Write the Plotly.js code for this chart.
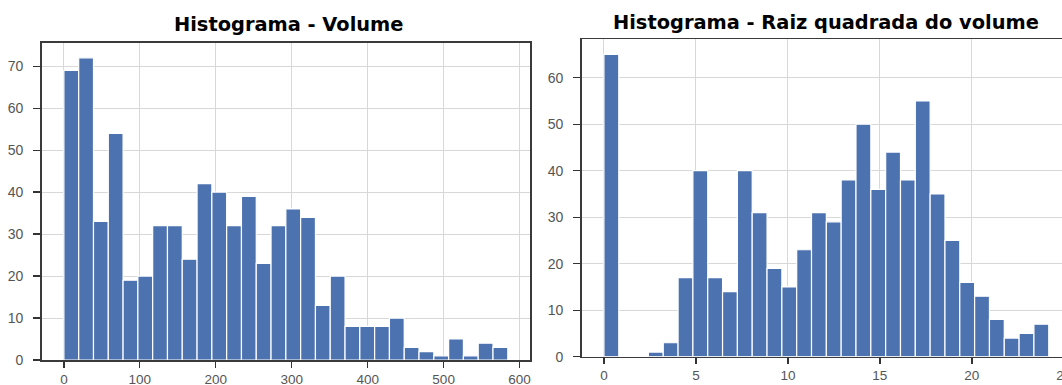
<!DOCTYPE html>
<html>
<head>
<meta charset="utf-8">
<script src="https://cdn.plot.ly/plotly-3.0.1.min.js"></script>
<style>
  html, body { margin: 0; padding: 0; background: #ffffff; overflow: hidden; }
  #chart { width: 1100px; height: 385px; }
</style>
</head>
<body>
<div id="chart"></div>
<script>
// Histogram of volume: 30 equal-width bins from 0 to the maximum volume
const volumeMin = 0;
const volumeMax = 584.5;
const volumeCounts = [69, 72, 33, 54, 19, 20, 32, 32, 24, 42, 40, 32, 39, 23, 32,
                      36, 34, 13, 20, 8, 8, 8, 10, 3, 2, 1, 5, 1, 4, 3];
const volumeTicks = [0, 100, 200, 300, 400, 500, 600];

// Histogram of the square root of volume: 30 equal-width bins
const sqrtMin = 0;
const sqrtMax = 24.18;
const sqrtCounts = [65, 0, 0, 1, 3, 17, 40, 17, 14, 40, 31, 19, 15, 23, 31,
                    29, 38, 50, 36, 44, 38, 55, 35, 25, 16, 13, 8, 4, 5, 7];
const sqrtTicks = [0, 5, 10, 15, 20, 25];

const countTicks = [0, 10, 20, 30, 40, 50, 60, 70];

const titles = ['Histograma - Volume', 'Histograma - Raiz quadrada do volume'];

const W = 1100, H = 385;
const barColor = '#4C72B0';
const yTickFont = { family: 'Liberation Sans, Arial, sans-serif', size: 14, color: '#555555' };
const xTickFont = { family: 'Liberation Sans, Arial, sans-serif', size: 13.5, color: '#555555' };
const titleFont = { family: 'DejaVu Sans, sans-serif', size: 19.4, color: '#000000', weight: 700 };

function binWidth(lo, hi, counts) { return (hi - lo) / counts.length; }
const volW = binWidth(volumeMin, volumeMax, volumeCounts);
const sqrtW = binWidth(sqrtMin, sqrtMax, sqrtCounts);

function histBars(counts, lo, w, xa, ya) {
  return {
    type: 'bar',
    y: counts,
    x0: lo + w / 2,
    dx: w,
    width: w,
    xaxis: xa,
    yaxis: ya,
    marker: { color: barColor, line: { color: '#ffffff', width: 1.2 } },
    hoverinfo: 'skip'
  };
}

// pad the data range by 5% on each side, like the classic histogram look
function padded(lo, hi) { const m = (hi - lo) * 0.05; return [lo - m, hi + m]; }
function maxOf(a) { return Math.max.apply(null, a); }

function px2x(px) { return px / W; }
function px2y(px) { return (H - px) / H; }

// right panel: the frame runs on past the page edge, so stretch the axis
// beyond the padded range while keeping the same units-per-pixel scale
const sqrtLeftPx = 581.7, sqrtFramePx = 1071, sqrtEndPx = 1092;
const sqrtRange = padded(sqrtMin, sqrtMax);
const sqrtScale = (sqrtRange[1] - sqrtRange[0]) / (sqrtFramePx - sqrtLeftPx);
sqrtRange[1] += (sqrtEndPx - sqrtFramePx) * sqrtScale;

const axisCommon = {
  ticks: 'outside',
  tickwidth: 1.3,
  tickcolor: '#333333',
  showline: true,
  linecolor: '#3a3a3a',
  linewidth: 1.5,
  mirror: true,
  showgrid: true,
  gridcolor: '#d8d8d8',
  gridwidth: 1,
  zeroline: false,
  tickmode: 'array',
  fixedrange: true
};

const xCommon = Object.assign({}, axisCommon, { ticklen: 6, tickfont: xTickFont, ticklabeloverflow: 'allow' });
const yCommon = Object.assign({}, axisCommon, { ticklen: 7, tickfont: yTickFont, ticklabelstandoff: 7, tickvals: countTicks });

const data = [
  histBars(volumeCounts, volumeMin, volW, 'x', 'y'),
  histBars(sqrtCounts, sqrtMin, sqrtW, 'x2', 'y2')
];

const layout = {
  width: W,
  height: H,
  margin: { l: 0, r: 0, t: 0, b: 0 },
  paper_bgcolor: '#ffffff',
  plot_bgcolor: '#ffffff',
  showlegend: false,
  bargap: 0,
  xaxis: Object.assign({}, xCommon, {
    domain: [px2x(41.7), px2x(530)],
    range: padded(volumeMin, volumeMax),
    tickvals: volumeTicks,
    anchor: 'y'
  }),
  yaxis: Object.assign({}, yCommon, {
    domain: [px2y(360), px2y(42.7)],
    range: [0, maxOf(volumeCounts) * 1.05],
    anchor: 'x'
  }),
  xaxis2: Object.assign({}, xCommon, {
    domain: [px2x(sqrtLeftPx), px2x(sqrtEndPx)],
    range: sqrtRange,
    tickvals: sqrtTicks,
    anchor: 'y2'
  }),
  yaxis2: Object.assign({}, yCommon, {
    domain: [px2y(356.7), px2y(39.3)],
    range: [0, maxOf(sqrtCounts) * 1.05],
    anchor: 'x2'
  }),
  annotations: [
    {
      text: titles[0], xref: 'x domain', yref: 'paper',
      x: 0.5, y: px2y(24.5), xanchor: 'center', yanchor: 'middle', xshift: 3,
      showarrow: false, font: titleFont
    },
    {
      text: titles[1], xref: 'paper', yref: 'paper',
      x: px2x((sqrtLeftPx + sqrtFramePx) / 2), y: px2y(22.5), xanchor: 'center', yanchor: 'middle',
      showarrow: false, font: titleFont
    }
  ]
};

Plotly.newPlot('chart', data, layout, { staticPlot: true, displayModeBar: false });
</script>
</body>
</html>
